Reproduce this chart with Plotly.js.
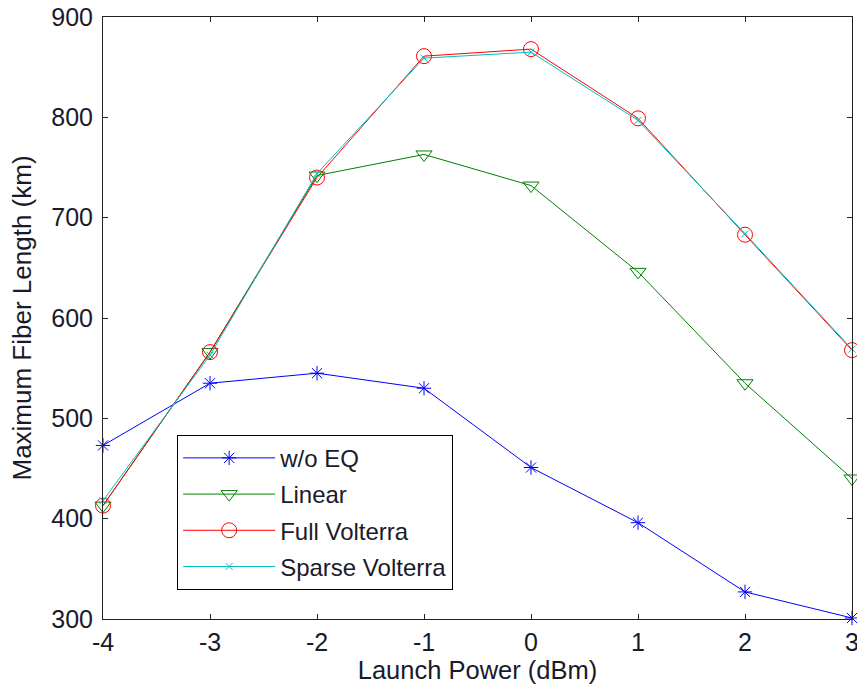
<!DOCTYPE html>
<html>
<head>
<meta charset="utf-8">
<script src="https://cdn.plot.ly/plotly-3.0.1.min.js"></script>
<style>html,body{margin:0;padding:0;background:#fff;}</style>
</head>
<body>
<div id="chart" style="width:857px;height:692px;"></div>
<script>
const launchPower = [-4, -3, -2, -1, 0, 1, 2, 3];
const woEQ = [473, 535, 545, 530, 451, 396, 327, 301];
const linearEQ = [413, 566, 742, 763, 732, 646, 535, 440];
const fullVolterra = [413, 566, 740, 861, 868, 799, 683, 568];
const sparseVolterra = [418, 563, 744, 859, 865, 797, 684, 569];
const seriesNames = ["w/o EQ", "Linear", "Full Volterra", "Sparse Volterra"];
const xTicks = [-4, -3, -2, -1, 0, 1, 2, 3];
const yTicks = [300, 400, 500, 600, 700, 800, 900];

const fontFam = "Liberation Sans, Arial, sans-serif";
const txtCol = "#1a1a2a";

function tr(y, name, color, symbol, size, group) {
  return {
    x: launchPower, y: y, name: name, type: "scatter", mode: "lines+markers",
    line: {color: color, width: 1},
    marker: {symbol: symbol, size: size, color: color, line: {color: color, width: 1}},
    legendgroup: group, cliponaxis: false
  };
}

const data = [
  tr(woEQ, seriesNames[0], "#0000FF", "asterisk-open", 12, "a"),
  tr(linearEQ, seriesNames[1], "#008000", "triangle-down-open", 14, "b"),
  tr(fullVolterra, seriesNames[2], "#FF0000", "circle-open", 15, "c"),
  tr(sparseVolterra, seriesNames[3], "#00BFBF", "x-thin-open", 7, "d")
];

const layout = {
  width: 857, height: 692,
  margin: {l: 103, r: 5, t: 17, b: 73},
  paper_bgcolor: "#fff", plot_bgcolor: "#fff",
  font: {family: fontFam, size: 24, color: txtCol},
  showlegend: true,
  legend: {
    x: 0.099, y: 0.306, xanchor: "left", yanchor: "top",
    bordercolor: "#000", borderwidth: 1, bgcolor: "#fff",
    font: {family: fontFam, size: 24, color: txtCol},
    tracegroupgap: 2, traceorder: "grouped", itemwidth: 92
  },
  xaxis: {
    range: [-4, 3], tickvals: xTicks, ticktext: xTicks.map(String),
    showgrid: false, zeroline: false,
    showline: true, linecolor: "#222", linewidth: 1, mirror: "ticks",
    ticks: "inside", ticklen: 5, tickcolor: "#222",
    ticklabelstandoff: 1, ticklabeloverflow: "allow",
    tickfont: {family: fontFam, size: 25, color: txtCol},
    title: {text: "Launch Power (dBm)", font: {family: fontFam, size: 25.5, color: txtCol}, standoff: 6}
  },
  yaxis: {
    range: [300, 900], tickvals: yTicks, ticktext: yTicks.map(String),
    showgrid: false, zeroline: false,
    showline: true, linecolor: "#222", linewidth: 1, mirror: "ticks",
    ticks: "inside", ticklen: 5, tickcolor: "#222",
    ticklabelstandoff: 4,
    tickfont: {family: fontFam, size: 25, color: txtCol},
    title: {text: "Maximum Fiber Length (km)", font: {family: fontFam, size: 26, color: txtCol}, standoff: 12}
  }
};

Plotly.newPlot("chart", data, layout, {displayModeBar: false, staticPlot: true});
</script>
</body>
</html>
